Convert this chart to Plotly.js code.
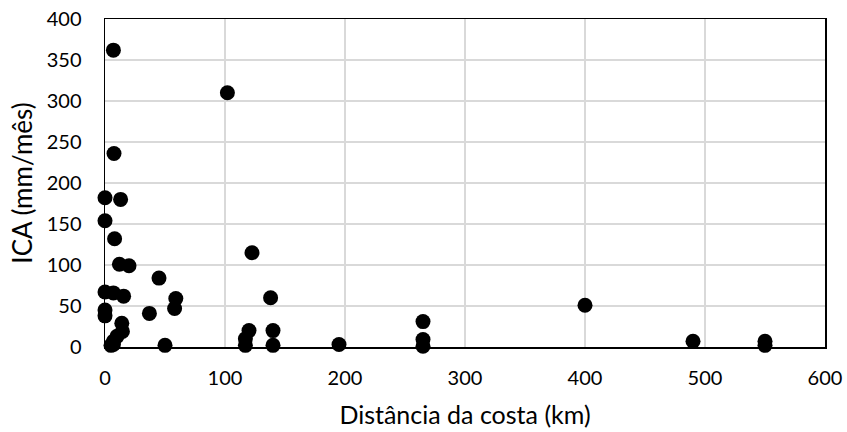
<!DOCTYPE html>
<html>
<head>
<meta charset="utf-8">
<script src="https://cdn.plot.ly/plotly-3.0.1.min.js"></script>
<style>html,body{margin:0;padding:0;background:#fff;}#chart{width:847px;height:432px;}</style>
</head>
<body>
<div id="chart"></div>
<script>
const distancia = [7, 102, 7.5, 0, 13, 0, 8, 12, 20, 45, 122.5, 0, 7, 15.5, 0, 0, 37, 59, 58, 14, 14.5, 10, 7, 5, 7, 50, 138, 120, 117, 117, 140, 140, 195, 265, 265, 265, 400, 490, 550, 550];
const ica = [362, 310, 236, 182, 180, 154, 132, 101, 99, 84, 115, 67, 66, 62, 45, 38, 41, 59, 47, 29, 19, 13, 7, 2, 3, 2, 60, 20, 10, 2, 20, 2, 3, 31, 9, 1, 51, 7, 7, 2];
const xTicks = [0, 100, 200, 300, 400, 500, 600];
const yTicks = [0, 50, 100, 150, 200, 250, 300, 350, 400];

const font = "Lato, 'Open Sans', sans-serif";
Plotly.newPlot('chart', [{
  x: distancia, y: ica, type: 'scatter', mode: 'markers',
  marker: {color: '#000000', size: 15},
  cliponaxis: false, hoverinfo: 'none'
}], {
  width: 847, height: 432,
  margin: {l: 105, r: 22, t: 19, b: 85},
  paper_bgcolor: '#fff', plot_bgcolor: '#fff',
  showlegend: false,
  font: {family: font, size: 20, color: '#000'},
  xaxis: {
    range: [0, 600], tickvals: xTicks, ticktext: xTicks.map(String),
    showgrid: true, gridcolor: '#d9d9d9', gridwidth: 1.5,
    showline: true, linecolor: '#000', linewidth: 1.5, mirror: true,
    zeroline: false, ticks: 'outside', ticklen: 12, tickcolor: 'rgba(0,0,0,0)',
    tickfont: {family: font, size: 20, color: '#000'},
    title: {text: 'Distância da costa (km)', font: {family: font, size: 25, color: '#000'}, standoff: 19}
  },
  yaxis: {
    range: [0, 400], tickvals: yTicks, ticktext: yTicks.map(String),
    showgrid: true, gridcolor: '#d9d9d9', gridwidth: 1.5,
    showline: true, linecolor: '#000', linewidth: 1.5, mirror: true,
    zeroline: false, ticks: 'outside', ticklen: 18, tickcolor: 'rgba(0,0,0,0)',
    tickfont: {family: font, size: 20, color: '#000'},
    title: {text: 'ICA (mm/mês)', font: {family: font, size: 26, color: '#000'}, standoff: 6}
  }
}, {staticPlot: true});
</script>
</body>
</html>
